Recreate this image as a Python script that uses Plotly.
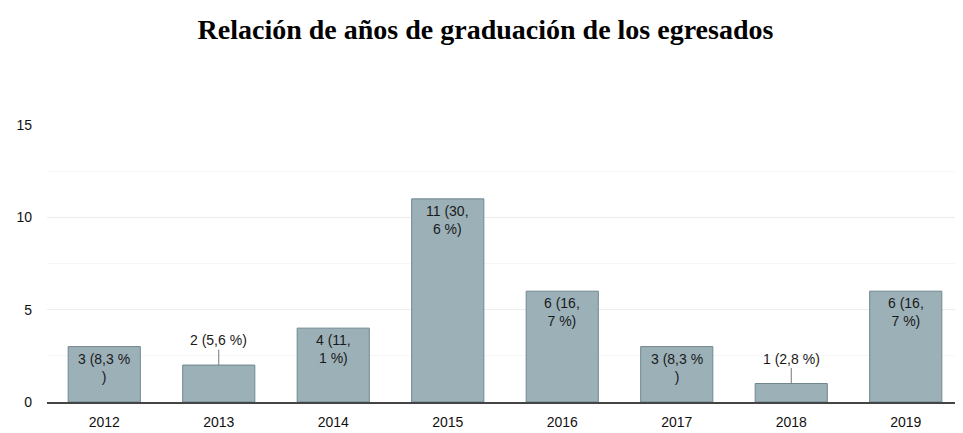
import plotly.graph_objects as go

# graduation years of the graduates
years = ["2012", "2013", "2014", "2015", "2016", "2017", "2018", "2019"]
counts = [3, 2, 4, 11, 6, 3, 1, 6]
labels = [
    "3 (8,3 %<br>)",
    "2 (5,6 %)",
    "4 (11,<br>1 %)",
    "11 (30,<br>6 %)",
    "6 (16,<br>7 %)",
    "3 (8,3 %<br>)",
    "1 (2,8 %)",
    "6 (16,<br>7 %)",
]
# small bars get their label above with a little leader line
outside = [False, True, False, False, False, False, True, False]

bar_color = "#9cb0b8"
edge_color = "#6f868f"
text_font = dict(family="Liberation Sans, Arial", size=14, color="#1a1a1a")

fig = go.Figure(
    go.Bar(
        x=years,
        y=counts,
        width=0.63,
        marker=dict(color=bar_color, line=dict(color=edge_color, width=1)),
        hoverinfo="x+y",
    )
)

# numeric-looking categories: annotations need the category index, not the year string
annotations = []
for i, (n, lab, out) in enumerate(zip(counts, labels, outside)):
    if out:
        annotations.append(dict(
            x=i, y=n, text=lab, font=text_font,
            showarrow=True, arrowhead=0, arrowwidth=1, arrowcolor="#777",
            ax=0, ay=-25, standoff=0,
        ))
    else:
        annotations.append(dict(
            x=i, y=n, text=lab, font=text_font,
            showarrow=False, yanchor="top", yshift=-2,
        ))

# page body has an 8px margin, so the figure is a bit smaller than the window
fig.update_layout(
    width=955,
    height=425,
    margin=dict(l=39, r=0, t=117, b=31),
    paper_bgcolor="white",
    plot_bgcolor="white",
    showlegend=False,
    title=dict(
        text="<b>Relación de años de graduación de los egresados</b>",
        x=0.5, xanchor="center", y=0.95, yanchor="middle",
        font=dict(family="Liberation Serif, Times New Roman", size=28, color="#000"),
    ),
    annotations=annotations,
)

fig.update_xaxes(
    type="category",
    range=[-0.5, 7.5],
    showgrid=False,
    showline=True, linecolor="#444", linewidth=2,
    tickfont=dict(family="Liberation Sans, Arial", size=14, color="#111"),
    ticks="", ticklabelstandoff=6,
)
fig.update_yaxes(
    range=[0, 15],
    dtick=5,
    showgrid=True, gridcolor="#ececec", gridwidth=1,
    minor=dict(dtick=2.5, showgrid=True, gridcolor="#f6f6f6"),
    zeroline=False,
    tickfont=dict(family="Liberation Sans, Arial", size=14, color="#111"),
    ticklabelstandoff=14,
)

fig.write_html("out.html")
